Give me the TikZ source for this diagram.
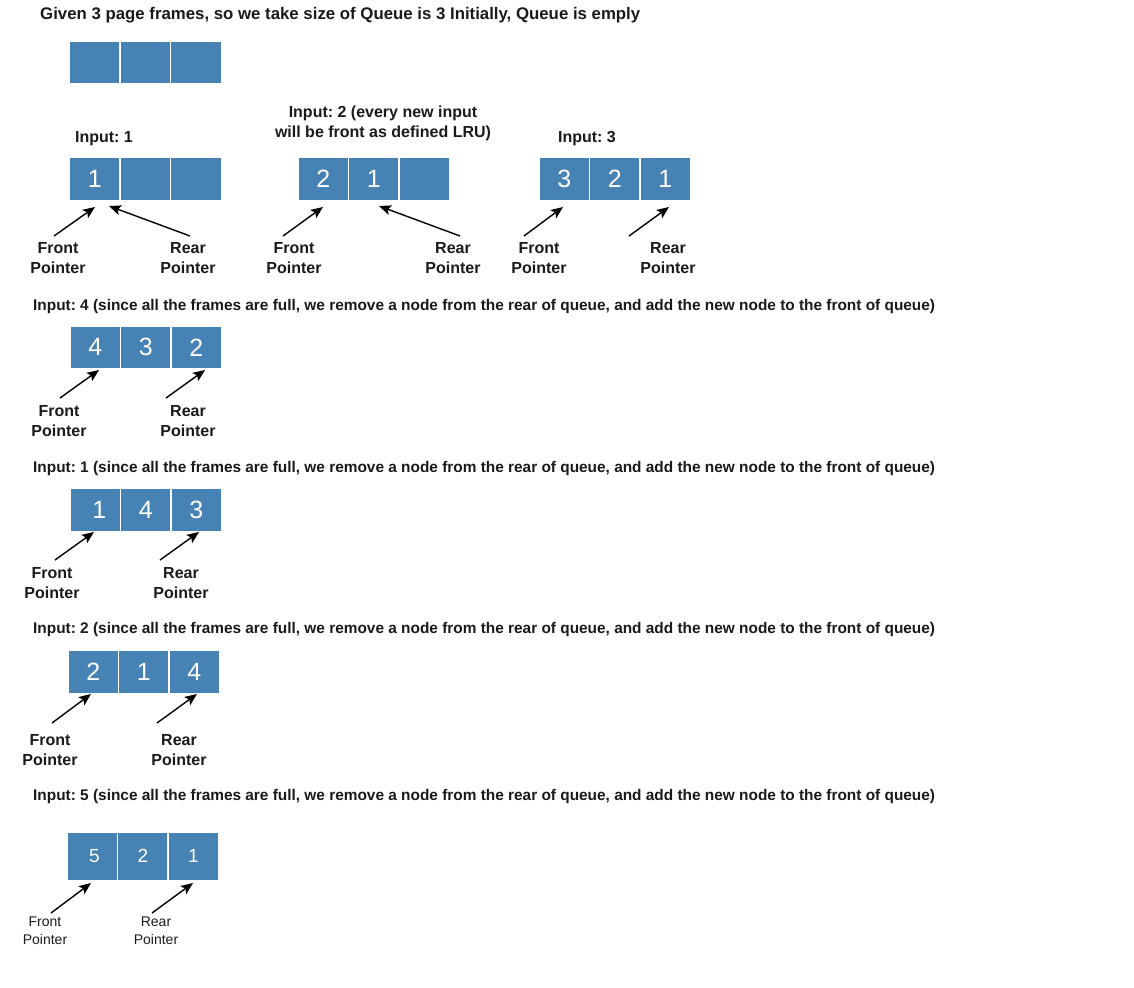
\documentclass[tikz,border=0pt]{standalone}
\usepackage{fontspec}
\setmainfont{Liberation Sans}
\usetikzlibrary{arrows.meta}
\definecolor{qblue}{HTML}{4682B4}
\definecolor{ink}{HTML}{1A1A1A}
\frenchspacing
\tikzset{
  cell/.style={rectangle, fill=qblue, draw=white, line width=1.6pt, inner sep=0pt,
    anchor=north west, minimum width=51pt, text=white},
  ptr/.style={-{Stealth[length=12pt,width=10pt,inset=2.5pt]}, line width=1.4pt, draw=black},
  lbl/.style={align=center, inner sep=0pt, text=ink, font=\bfseries\fontsize{16}{20}\selectfont},
  lblsmall/.style={align=center, inner sep=0pt, text=ink, font=\fontsize{14}{17.5}\selectfont},
  head/.style={anchor=west, inner sep=0pt, text=ink, font=\bfseries\fontsize{16.8}{20}\selectfont},
  inp/.style={anchor=west, inner sep=0pt, text=ink, font=\bfseries\fontsize{15.4}{18}\selectfont},
}
\newcommand\qcells[8]{%
  \node[cell, minimum height=#4pt, font=\fontsize{#5}{#5}\selectfont] (#1a) at (#2,#3) {#6};
  \node[cell, minimum height=#4pt, font=\fontsize{#5}{#5}\selectfont] (#1b) at ({#2+50.5},#3) {#7};
  \node[cell, minimum height=#4pt, font=\fontsize{#5}{#5}\selectfont] (#1c) at ({#2+101},#3) {#8};
}
\begin{document}
\begin{tikzpicture}[x=1pt,y=-1pt]
\useasboundingbox[fill=white] (0,0) rectangle (1134,987);

% title and empty queue
\node[head] (title) at (40,15) {Given 3 page frames, so we take size of Queue is 3 Initially, Queue is emply};
\qcells{q0}{68.5}{40.5}{43}{25}{}{}{}

% row 1
\node[lbl] (in1) at (104,139) {Input: 1};
\qcells{q1}{68.5}{156.5}{43}{25}{1}{}{}
\node[lbl] (in2) at (383,123) {Input: 2 (every new input\\will be front as defined LRU)};
\qcells{q2}{297}{156.5}{43}{25}{2}{1}{}
\node[lbl] (in3) at (587,139) {Input: 3};
\qcells{q3}{538}{156.5}{43}{25}{3}{2}{1}

\node[lbl] (f1) at (58,258) {Front\\Pointer};
\node[lbl] (r1) at (188,258) {Rear\\Pointer};
\node[lbl] (f2) at (294,258) {Front\\Pointer};
\node[lbl] (r2) at (453,258) {Rear\\Pointer};
\node[lbl] (f3) at (539,258) {Front\\Pointer};
\node[lbl] (r3) at (668,258) {Rear\\Pointer};

\coordinate (f1t) at (54,236); \coordinate (f1h) at (95,207);
\coordinate (r1t) at (190,236); \coordinate (r1h) at (109,206);
\coordinate (f2t) at (283,236); \coordinate (f2h) at (323,207);
\coordinate (r2t) at (460,236); \coordinate (r2h) at (379,206);
\coordinate (f3t) at (524,236); \coordinate (f3h) at (563,207);
\coordinate (r3t) at (629,236); \coordinate (r3h) at (669,207);
\draw[ptr] (f1t) -- (f1h);
\draw[ptr] (r1t) -- (r1h);
\draw[ptr] (f2t) -- (f2h);
\draw[ptr] (r2t) -- (r2h);
\draw[ptr] (f3t) -- (f3h);
\draw[ptr] (r3t) -- (r3h);

% row 4
\node[inp] (in4) at (33,307) {Input: 4 (since all the frames are full, we remove a node from the rear of queue, and add the new node to the front of queue)};
\qcells{q4}{69}{325}{43}{25}{4}{3}{2}
\node[lbl] (f4) at (59,421) {Front\\Pointer};
\node[lbl] (r4) at (188,421) {Rear\\Pointer};
\coordinate (f4t) at (60,398); \coordinate (f4h) at (99,370);
\coordinate (r4t) at (166,398); \coordinate (r4h) at (205,370);
\draw[ptr] (f4t) -- (f4h);
\draw[ptr] (r4t) -- (r4h);

% row 5
\node[inp] (in5) at (33,469) {Input: 1 (since all the frames are full, we remove a node from the rear of queue, and add the new node to the front of queue)};
\qcells{q5}{69}{487.5}{43}{25}{\hspace*{8pt}1}{4}{3}
\node[lbl] (f5) at (52,583) {Front\\Pointer};
\node[lbl] (r5) at (181,583) {Rear\\Pointer};
\coordinate (f5t) at (55,560); \coordinate (f5h) at (94,532);
\coordinate (r5t) at (160,560); \coordinate (r5h) at (199,532);
\draw[ptr] (f5t) -- (f5h);
\draw[ptr] (r5t) -- (r5h);

% row 6
\node[inp] (in6) at (33,630) {Input: 2 (since all the frames are full, we remove a node from the rear of queue, and add the new node to the front of queue)};
\qcells{q6}{67}{649.5}{43}{25}{2}{1}{4}
\node[lbl] (f6) at (50,750) {Front\\Pointer};
\node[lbl] (r6) at (179,750) {Rear\\Pointer};
\coordinate (f6t) at (52,723); \coordinate (f6h) at (91,694);
\coordinate (r6t) at (157,723); \coordinate (r6h) at (197,694);
\draw[ptr] (f6t) -- (f6h);
\draw[ptr] (r6t) -- (r6h);

% row 7
\node[inp] (in7) at (33,797) {Input: 5 (since all the frames are full, we remove a node from the rear of queue, and add the new node to the front of queue)};
\qcells{q7}{66}{831.5}{48}{19}{\hspace*{4pt}5}{2}{1}
\node[lblsmall] (f7) at (45,930.5) {Front\\Pointer};
\node[lblsmall] (r7) at (156,930.5) {Rear\\Pointer};
\coordinate (f7t) at (51,913); \coordinate (f7h) at (91,883);
\coordinate (r7t) at (152,913); \coordinate (r7h) at (193,883);
\draw[ptr] (f7t) -- (f7h);
\draw[ptr] (r7t) -- (r7h);
\end{tikzpicture}
\end{document}
